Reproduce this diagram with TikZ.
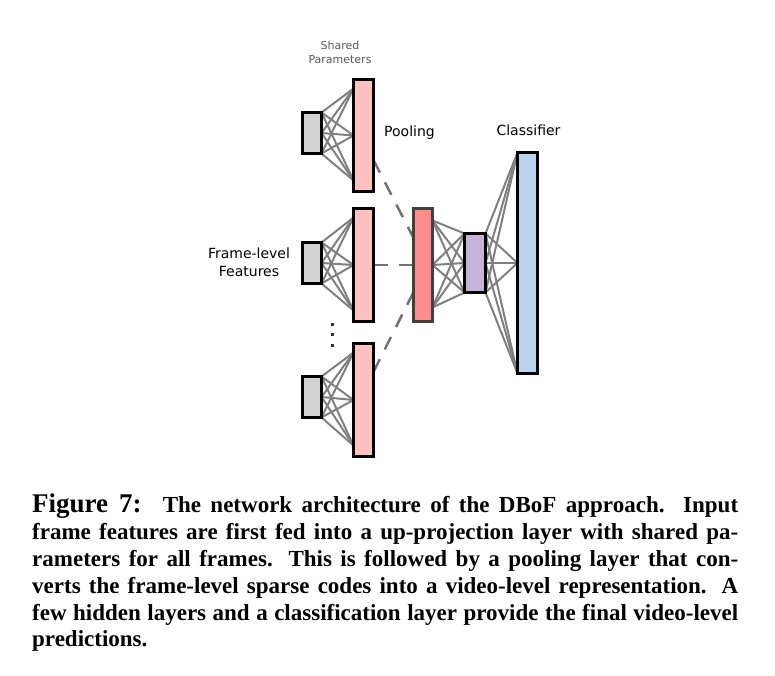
\documentclass[tikz,border=0pt]{standalone}
\usepackage{fontspec}
\setmainfont{Liberation Serif}
\newfontfamily\labelfont{DejaVu Sans}
\usetikzlibrary{calc}

\pgfdeclarelayer{background}
\pgfsetlayers{background,main}

\definecolor{inputgray}{HTML}{D3D3D3}
\definecolor{sharedpink}{HTML}{FFC0C0}
\definecolor{poolred}{HTML}{FF8B8B}
\definecolor{hiddenpurple}{HTML}{C8B3D8}
\definecolor{classblue}{HTML}{B9D3EE}
\definecolor{linkgray}{HTML}{808080}

\tikzset{
    unitbar/.style={draw=black, line width=3pt, outer sep=0pt, inner sep=0pt, minimum width=19pt},
    link/.style={draw=linkgray, line width=2pt},
    poollink/.style={draw=linkgray!90!black, line width=2.5pt, dash pattern=on 14pt off 11pt},
    lbl/.style={font=\labelfont\fontsize{14}{18}\selectfont, inner sep=0pt, align=center}
}

\begin{document}
\begin{tikzpicture}[x=1pt, y=-1pt]
        \useasboundingbox (0,0) rectangle (775,676);

        % vstupni priznaky snimku
        \node[unitbar, fill=inputgray, minimum height=41pt] (in1) at (312,133) {};
        \node[unitbar, fill=inputgray, minimum height=41pt] (in2) at (312,263) {};
        \node[unitbar, fill=inputgray, minimum height=41pt] (in3) at (312,397) {};

        % sdilene parametry
        \node[unitbar, fill=sharedpink, minimum width=20pt, minimum height=112pt] (sh1) at (363.5,135.5) {};
        \node[unitbar, fill=sharedpink, minimum width=20pt, minimum height=113pt] (sh2) at (363.5,265) {};
        \node[unitbar, fill=sharedpink, minimum width=20pt, minimum height=113pt] (sh3) at (363.5,400) {};

        % pooling, skryta vrstva, klasifikator
        \node[unitbar, draw=black!75, fill=poolred, minimum height=113pt] (pool) at (423,265) {};
        \node[unitbar, fill=hiddenpurple, minimum width=21pt, minimum height=59pt] (hid) at (475,263) {};
        \node[unitbar, fill=classblue, minimum width=20pt, minimum height=221pt] (cls) at (527.5,263) {};

        % body spojeni
        \foreach \i in {1,2,3} {
            \coordinate (sh\i a) at ([yshift=-9pt]sh\i.north west);
            \coordinate (sh\i b) at (sh\i.west);
            \coordinate (sh\i c) at ([yshift=11pt]sh\i.south west);
        }
        \coordinate (poola) at ([yshift=-12pt]pool.north east);
        \coordinate (poolb) at (pool.east);
        \coordinate (poolc) at ([yshift=14pt]pool.south east);

        % spojeni
        \begin{pgfonlayer}{background}
            \foreach \i in {1,2,3}
                \foreach \a in {north east, east, south east}
                    \foreach \b in {a,b,c}
                        \draw[link] (in\i.\a) -- (sh\i\b);

            \foreach \a in {a,b,c}
                \foreach \b in {north west, west, south west}
                    \draw[link] (pool\a) -- (hid.\b);

            \foreach \a in {north east, east, south east}
                \foreach \b in {north west, west, south west}
                    \draw[link] (hid.\a) -- (cls.\b);

            % pooling pres snimky
            \draw[poollink] ($(sh1.north east)!0.72!(sh1.south east)$) -- ($(pool.north west)!0.26!(pool.south west)$);
            \draw[poollink] (sh2.east) -- (pool.west);
            \draw[poollink] ($(sh3.north east)!0.25!(sh3.south east)$) -- ($(pool.north west)!0.74!(pool.south west)$);
        \end{pgfonlayer}

        % tecky
        \foreach \y in {324,334.5,345}
            \fill[black!80] (331,\y-1.5) rectangle +(3,3);

        % popisky
        \node[lbl, text=black!65, font=\labelfont\fontsize{11}{14}\selectfont] (shared) at (340,52) {Shared\\Parameters};
        \node[lbl, anchor=west] (pooling) at (384,133) {Pooling};
        \node[lbl] (classifier) at (528.5,130) {Classifier};
        \node[lbl] (frames) at (249,262.5) {Frame-level\\Features};

        % popis obrazku
        \node[anchor=north west, text width=706pt, align=justify, inner sep=0pt,
            font=\bfseries\fontsize{23}{26.8}\selectfont] (caption) at (32,494)
            {{\fontsize{27}{26.8}\selectfont Figure 7:}\hspace{6pt} The network architecture of the DBoF approach. Input\linebreak
            frame features are first fed into a up-projection layer with shared pa-\linebreak
            rameters for all frames. This is followed by a pooling layer that con-\linebreak
            verts the frame-level sparse codes into a video-level representation. A\linebreak
            few hidden layers and a classification layer provide the final video-level\linebreak
            predictions.};

    \end{tikzpicture}
\end{document}
